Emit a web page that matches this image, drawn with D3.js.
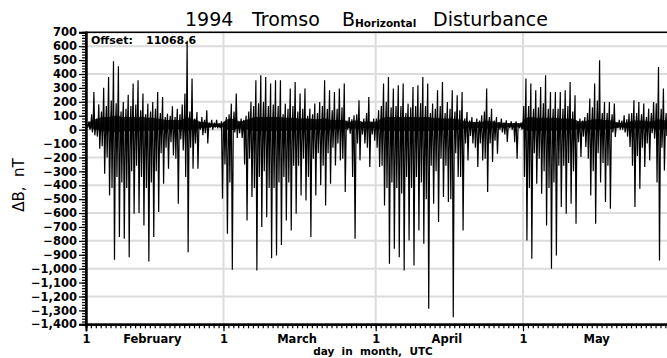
<!DOCTYPE html>
<html><head><meta charset="utf-8">
<script src="https://cdn.jsdelivr.net/npm/d3@7"></script>
<style>html,body{margin:0;padding:0;background:#fff;overflow:hidden}</style>
</head><body><svg id="c" width="667" height="358"></svg>
<script>
// ---------------- data ----------------
const months = ["February", "March", "April", "May"];
const monthStartDay = [0, 28, 59, 89, 120];      // days since 1 Feb 1994
const yTicks = d3.range(-1400, 701, 100);
const gridValues = d3.range(-1200, 601, 200);
const offsetLabel = "11068.6";
const quietLevel = 30;                            // nT, quiet-time level

// daily main substorm excursions (nT), one entry per day from 1 Feb
const dailyMax = [
  60, 271, 182, 302, 379, 492, 456, 199, 250, 331,
  355, 259, 187, 199, 271, 235, 115, 168, 150, 180,
  640, 367, 127, 90, 139, 70, 70, 60, 90, 187,
  259, 80, 100, 200, 355, 391, 379, 331, 355, 355,
  187, 295, 343, 259, 295, 151, 187, 199, 355, 283,
  271, 295, 331, 91, 103, 211, 80, 235, 80, 139,
  331, 379, 295, 319, 331, 187, 307, 319, 379, 331,
  187, 283, 343, 199, 283, 247, 271, 127, 91, 80,
  103, 295, 151, 91, 80, 67, 60, 60, 50, 367,
  331, 283, 307, 391, 271, 271, 271, 283, 343, 247,
  80, 90, 223, 331, 499, 199, 199, 187, 70, 103,
  115, 211, 199, 187, 151, 199, 451, 295, 200, 150
];
const dailyMin = [
  0, -41, -137, -317, -473, -936, -773, -785, -917, -605,
  -600, -689, -948, -773, -593, -389, -281, -185, -533, -150,
  -881, -281, -281, -40, -100, 0, 10, -497, -749, -1008,
  -60, -60, -653, -485, -1013, -700, -630, -925, -905, -830,
  -653, -725, -605, -473, -509, -773, -473, -400, -545, -389,
  -257, -221, -449, -29, -785, -221, -100, -269, -80, -269,
  -545, -965, -857, -917, -1013, -797, -977, -725, -821, -1289,
  -533, -665, -485, -521, -1349, -341, -725, -221, -100, -269,
  -221, -449, -233, -173, -20, -89, 0, -209, 0, -797,
  -929, -389, -461, -689, -1001, -905, -557, -605, -533, -677,
  -197, -125, -473, -677, -380, -521, -569, -53, 0, -20,
  -125, -557, -425, -269, -221, -65, -941, -293, -100, -150
];
// secondary (smaller) excursions each day (nT)
const subMax = [
  40, 110, 80, 130, 170, 210, 190, 130, 150, 170,
  180, 140, 110, 130, 150, 120, 90, 100, 90, 110,
  260, 130, 80, 55, 70, 50, 50, 45, 55, 110,
  130, 55, 70, 130, 170, 190, 200, 170, 180, 170,
  110, 150, 170, 130, 150, 100, 110, 120, 170, 150,
  140, 150, 160, 65, 75, 110, 55, 120, 55, 80,
  170, 200, 160, 170, 170, 120, 160, 170, 190, 170,
  120, 150, 170, 120, 150, 130, 140, 80, 65, 55,
  65, 130, 90, 65, 55, 50, 45, 45, 45, 170,
  170, 150, 160, 190, 150, 150, 150, 150, 170, 130,
  55, 65, 120, 160, 210, 120, 120, 110, 50, 65,
  75, 120, 120, 110, 90, 120, 190, 150, 120, 90
];
const subMin = [
  15, -20, -50, -120, -200, -420, -340, -380, -420, -300,
  -260, -340, -420, -380, -300, -170, -130, -90, -210, -70,
  -340, -130, -100, 0, -25, 15, 15, 10, -250, -380,
  -20, -25, -250, -210, -420, -340, -300, -420, -420, -380,
  -340, -380, -260, -260, -210, -340, -210, -170, -260, -170,
  -130, -100, -210, 0, -340, -100, -35, -130, -35, -130,
  -260, -420, -380, -420, -460, -340, -420, -340, -380, -500,
  -260, -300, -210, -260, -500, -170, -340, -100, -45, -130,
  -100, -210, -100, -80, 0, -35, 10, -90, 10, -340,
  -420, -170, -210, -300, -420, -380, -260, -260, -240, -300,
  -90, -50, -210, -300, -170, -240, -260, -20, 10, 0,
  -50, -260, -190, -130, -100, -25, -380, -130, -45, -70
];
// half-width of the dense small fluctuations around the quiet level (nT)
const bandWidth = [
  20, 40, 50, 60, 60, 70, 70, 60, 60, 60,
  60, 60, 55, 55, 50, 45, 40, 40, 40, 40,
  60, 45, 40, 25, 25, 15, 15, 15, 40, 50,
  40, 30, 40, 50, 60, 60, 60, 60, 60, 60,
  55, 55, 55, 50, 50, 50, 45, 45, 50, 45,
  40, 40, 40, 25, 35, 35, 25, 30, 25, 35,
  55, 60, 60, 60, 60, 60, 60, 60, 60, 60,
  55, 55, 50, 50, 50, 45, 40, 30, 25, 25,
  25, 35, 30, 25, 20, 20, 15, 20, 15, 50,
  60, 55, 55, 55, 55, 55, 50, 50, 50, 45,
  30, 30, 40, 45, 45, 40, 40, 30, 20, 20,
  25, 35, 35, 35, 30, 30, 45, 40, 35, 30
];
// time of day (fraction) of each excursion
const eventPhase = {subMax: 0.15, subMin: 0.3, rest: 0.45, max: 0.6, min: 0.8};

// ---------------- chart ----------------
const svg = d3.select("#c");
const W = 667, H = 358;
const plot = {left: 86, top: 32.3, bottom: 324.3};
const nDays = monthStartDay[monthStartDay.length - 1];
const x = d3.scaleLinear().domain([0, nDays]).range([plot.left, plot.left + nDays * 4.91]);
const y = d3.scaleLinear().domain([-1400, 700]).range([plot.bottom, plot.top]);
const font = "DejaVu Sans";

svg.append("rect").attr("width", W).attr("height", H).attr("fill", "#fff");

// grid
svg.append("g").selectAll("line").data(gridValues).join("line")
  .attr("x1", x(0)).attr("x2", x(nDays)).attr("y1", d => y(d)).attr("y2", d => y(d))
  .attr("stroke", "#dcdcdc").attr("stroke-width", 2);
svg.append("g").selectAll("line").data(monthStartDay.slice(1)).join("line")
  .attr("x1", d => x(d)).attr("x2", d => x(d)).attr("y1", plot.top).attr("y2", plot.bottom)
  .attr("stroke", "#dcdcdc").attr("stroke-width", 2);

// dense band of small fluctuations
svg.append("path").datum(bandWidth)
  .attr("d", d3.area().curve(d3.curveMonotoneX)
    .x((b, d) => x(d + 0.5))
    .y0(b => y(quietLevel - b * 0.7))
    .y1(b => y(quietLevel + b)))
  .attr("fill", "#000").attr("opacity", 0.85);

// trace
const pts = [];
dailyMax.forEach((_, d) => {
  pts.push([d, quietLevel]);
  pts.push([d + eventPhase.subMax, subMax[d]]);
  pts.push([d + eventPhase.subMin, subMin[d]]);
  pts.push([d + eventPhase.rest, quietLevel]);
  pts.push([d + eventPhase.max, dailyMax[d]]);
  pts.push([d + eventPhase.min, dailyMin[d]]);
});
pts.push([dailyMax.length, quietLevel]);
svg.append("path").datum(pts)
  .attr("d", d3.line().x(p => x(p[0])).y(p => y(p[1])))
  .attr("fill", "none").attr("stroke", "#000").attr("stroke-width", 1.2)
  .attr("stroke-linejoin", "miter").attr("stroke-miterlimit", 2);

// frame
svg.append("rect").attr("x", x(0)).attr("y", plot.top)
  .attr("width", x(nDays) - x(0)).attr("height", plot.bottom - plot.top)
  .attr("fill", "none").attr("stroke", "#000").attr("stroke-width", 1.6);

// y axis
const yMinor = svg.append("g").attr("transform", `translate(${plot.left},0)`)
  .call(d3.axisLeft(y).tickValues(d3.range(-1400, 701, 20)).tickSize(4).tickFormat(""));
const yAx = svg.append("g").attr("transform", `translate(${plot.left},0)`)
  .call(d3.axisLeft(y).tickValues(yTicks).tickSize(7).tickPadding(2));
yAx.selectAll("text").attr("font-family", font).attr("font-weight", "bold")
  .attr("font-size", 11.5).attr("fill", "#000");
[yMinor, yAx].forEach(g => { g.select(".domain").attr("stroke-width", 2); g.selectAll("line").attr("stroke-width", 1.2); });

// x axis
const xMinor = svg.append("g").attr("transform", `translate(0,${plot.bottom})`)
  .call(d3.axisBottom(x).tickValues(d3.range(0, nDays + 1, 1)).tickSize(4).tickFormat(""));
const xAx = svg.append("g").attr("transform", `translate(0,${plot.bottom})`)
  .call(d3.axisBottom(x).tickValues(monthStartDay.slice(0, months.length)).tickSize(7).tickPadding(3.3).tickFormat(() => "1"));
xAx.selectAll("text").attr("font-family", font).attr("font-weight", "bold")
  .attr("font-size", 11.5).attr("fill", "#000");
[xMinor, xAx].forEach(g => { g.select(".domain").attr("stroke-width", 2); g.selectAll("line").attr("stroke-width", 1.2); });

// month names
svg.append("g").selectAll("text").data(months).join("text")
  .attr("x", (m, i) => x((monthStartDay[i] + monthStartDay[i + 1] - 1) / 2))
  .attr("y", 342.8).attr("text-anchor", "middle")
  .attr("font-family", font).attr("font-weight", "bold").attr("font-size", 11.5)
  .text(m => m);

// x axis title
svg.append("text").attr("x", 373).attr("y", 355.4).attr("text-anchor", "middle")
  .style("white-space", "pre")
  .attr("font-family", font).attr("font-weight", "bold").attr("font-size", 10.5)
  .text("day  in  month,  UTC");

// y axis title
svg.append("text").attr("transform", "translate(24,185) rotate(-90)")
  .attr("text-anchor", "middle").style("white-space", "pre")
  .attr("font-family", font).attr("font-size", 15)
  .text("ΔB,  nT");

// offset label
svg.append("text").attr("x", 91).attr("y", 44)
  .attr("font-family", font).attr("font-weight", "bold").attr("font-size", 11)
  .text("Offset:");
svg.append("text").attr("x", 146).attr("y", 44)
  .attr("font-family", font).attr("font-weight", "bold").attr("font-size", 11)
  .text(offsetLabel);

// title
const t = svg.append("g").attr("font-family", font).attr("fill", "#000");
t.append("text").attr("x", 185).attr("y", 26).attr("font-size", 19).text("1994");
t.append("text").attr("x", 252).attr("y", 26).attr("font-size", 19).text("Tromso");
t.append("text").attr("x", 342).attr("y", 26).attr("font-size", 19).text("B");
t.append("text").attr("x", 355).attr("y", 27).attr("font-size", 10.5).attr("font-weight", "bold").text("Horizontal");
t.append("text").attr("x", 433).attr("y", 26).attr("font-size", 19).text("Disturbance");
</script>
</body></html>
